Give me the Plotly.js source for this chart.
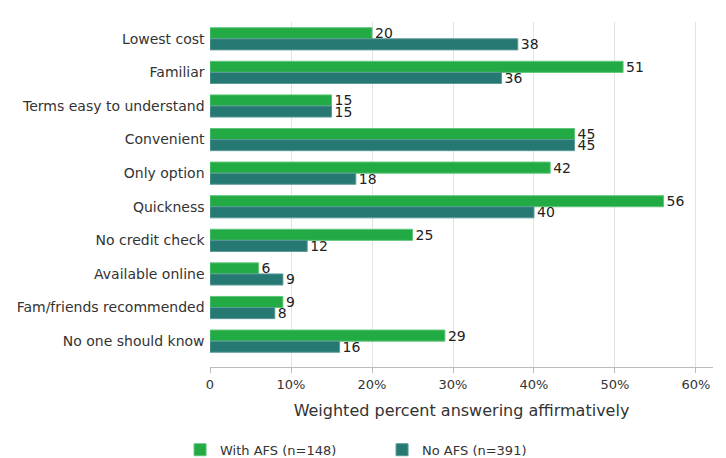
<!DOCTYPE html>
<html>
<head>
<meta charset="utf-8">
<script src="https://cdn.plot.ly/plotly-3.0.1.min.js"></script>
<style>html,body{margin:0;padding:0;background:#fff;}#chart{width:726px;height:458px;}</style>
</head>
<body>
<div id="chart"></div>
<script>
const categories = ["Lowest cost","Familiar","Terms easy to understand","Convenient","Only option","Quickness","No credit check","Available online","Fam/friends recommended","No one should know"];
const withAFS = [20,51,15,45,42,56,25,6,9,29];
const noAFS = [38,36,15,45,18,40,12,9,8,16];
const seriesNames = ["With AFS (n=148)","No AFS (n=391)"];
const tickVals = [0,10,20,30,40,50,60];
const tickText = ["0","10%","20%","30%","40%","50%","60%"];

const font = "DejaVu Sans, sans-serif";
const traces = [
  {type:"bar", orientation:"h", y:categories, x:withAFS, name:seriesNames[0],
   marker:{color:"#22aa44", line:{color:"#5fc679", width:1}},
   text:withAFS.map(String), textposition:"outside", cliponaxis:false, constraintext:"none",
   textfont:{family:font, size:14, color:"#222"}},
  {type:"bar", orientation:"h", y:categories, x:noAFS, name:seriesNames[1],
   marker:{color:"#267873", line:{color:"#5a9b97", width:1}},
   text:noAFS.map(String), textposition:"outside", cliponaxis:false, constraintext:"none",
   textfont:{family:font, size:14, color:"#222"}}
];
const layout = {
  width:726, height:458,
  margin:{l:210, r:13, t:22, b:91, autoexpand:false},
  paper_bgcolor:"#fff", plot_bgcolor:"#fff",
  font:{family:font, size:12, color:"#333"},
  barmode:"group", bargap:0.34, bargroupgap:0,
  showlegend:true,
  legend:{orientation:"h", xref:"container", x:0.248, xanchor:"left", yref:"container", y:0.018, yanchor:"middle",
          font:{family:font, size:13, color:"#333"}, entrywidth:157, entrywidthmode:"pixels"},
  xaxis:{range:[0,62.1], tickvals:tickVals, ticktext:tickText, automargin:false,
         showgrid:true, gridcolor:"#e3e3e3", gridwidth:1, zeroline:false,
         showline:true, linecolor:"#bbbbbb", linewidth:1,
         ticks:"outside", ticklen:5, tickcolor:"#bbbbbb",
         tickfont:{family:font, size:13, color:"#333"},
         title:{text:"Weighted percent answering affirmatively", font:{family:font, size:16, color:"#333"}, standoff:14}},
  yaxis:{type:"category", autorange:false, range:[9.77,-0.5], automargin:false,
         showgrid:false, zeroline:false, showline:false, ticks:"", ticklen:0,
         tickfont:{family:font, size:14, color:"#333"}, ticksuffix:" "}
};
Plotly.newPlot("chart", traces, layout, {displayModeBar:false, staticPlot:true});
</script>
</body>
</html>
